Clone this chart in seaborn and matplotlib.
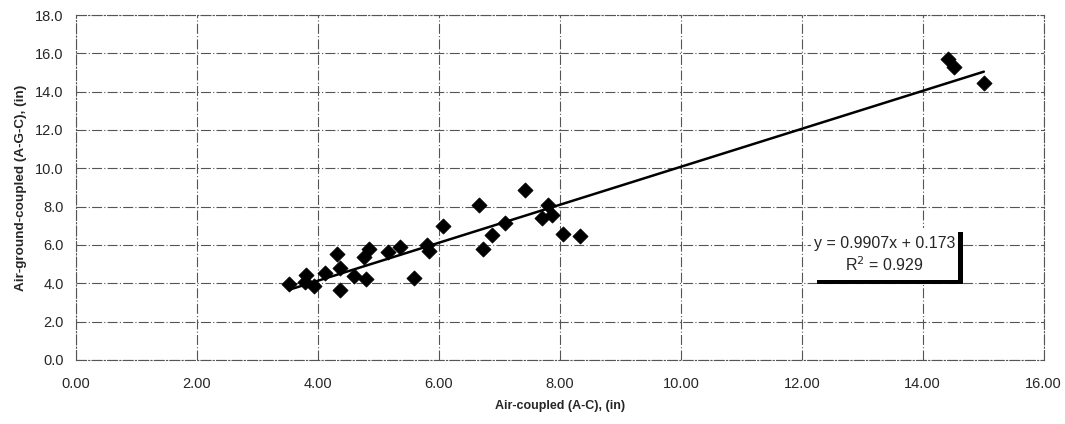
import numpy as np
import pandas as pd
import matplotlib
matplotlib.use("Agg")
import matplotlib.pyplot as plt
import seaborn as sns
from matplotlib.patches import Rectangle

# Data
air_coupled = [3.52, 3.81, 3.79, 3.94, 4.12, 4.31, 4.37, 4.36, 4.60, 4.76,
               4.84, 4.79, 5.16, 5.36, 5.59, 5.80, 5.84, 6.07, 6.66, 6.88,
               7.09, 7.42, 7.70, 7.81, 7.87, 8.05, 8.34, 6.73, 14.42, 14.51,
               15.01]
air_ground = [3.96, 4.43, 4.09, 3.86, 4.52, 5.53, 4.78, 3.65, 4.38, 5.39,
              5.79, 4.21, 5.65, 5.91, 4.26, 6.00, 5.70, 7.01, 8.09, 6.50,
              7.17, 8.87, 7.39, 8.09, 7.56, 6.57, 6.48, 5.79, 15.69, 15.31,
              14.43]

# Trend line from the chart
slope = 0.9907
intercept = 0.173
r_squared = 0.929

df = pd.DataFrame({"x": air_coupled, "y": air_ground})

sns.set_style("white")
plt.rcParams["font.family"] = ["Liberation Sans", "DejaVu Sans"]

fig, ax = plt.subplots(figsize=(10.65, 4.24), dpi=100)
fig.subplots_adjust(left=0.0714, right=0.980, top=0.9646, bottom=0.151)

# Trend line
xs = np.array([df["x"].min(), df["x"].max()])
trend = pd.DataFrame({"x": xs, "y": slope * xs + intercept})
sns.lineplot(data=trend, x="x", y="y", color="black", linewidth=1.8, ax=ax, zorder=3)

# Points
sns.scatterplot(data=df, x="x", y="y", marker="D", s=60, color="black",
                edgecolor="black", linewidth=0.5, ax=ax, zorder=4)

ax.set_xlim(0, 16)
ax.set_ylim(0, 18)
ax.set_xticks(np.arange(0, 17, 2))
ax.set_yticks(np.arange(0, 19, 2))
ax.set_xticklabels([f"{v:.2f}" for v in np.arange(0, 17, 2)])
ax.set_yticklabels([f"{v:.1f}" for v in np.arange(0, 19, 2)])
ax.tick_params(length=3, width=0.8, direction="out", color="#333333")
ax.tick_params(axis="x", labelsize=10.5, pad=9)
ax.tick_params(axis="y", labelsize=10.5, pad=6)

ax.grid(True, color="#555555", linewidth=0.8, linestyle=(0, (9, 2, 1, 2)))
for side in ["top", "right", "left", "bottom"]:
    ax.spines[side].set_color("#555555")
    ax.spines[side].set_linewidth(0.8)
    ax.spines[side].set_linestyle((0, (9, 2, 1, 2)))

ax.set_xlabel("Air-coupled (A-C), (in)", fontsize=9, fontweight="bold", labelpad=7)
ax.set_ylabel("Air-ground-coupled (A-G-C), (in)", fontsize=9.7, fontweight="bold", labelpad=6)

# Equation box with shadow
bx0, by0, bw, bh = 0.760, 0.232, 0.151, 0.151
ax.add_patch(Rectangle((bx0 + 0.006, by0 - 0.012), bw, bh, transform=ax.transAxes,
                       facecolor="black", edgecolor="none", zorder=5))
ax.add_patch(Rectangle((bx0, by0), bw, bh, transform=ax.transAxes,
                       facecolor="white", edgecolor="none", zorder=6))
ax.text(bx0 + bw / 2, by0 + bh * 0.70, f"y = {slope}x + {intercept}",
        transform=ax.transAxes, ha="center", va="center", fontsize=11.5, zorder=7)
ax.text(bx0 + bw / 2, by0 + bh * 0.30, f"R$^2$ = {r_squared}",
        transform=ax.transAxes, ha="center", va="center", fontsize=11.5, zorder=7)

plt.savefig("out.png", dpi=100)
